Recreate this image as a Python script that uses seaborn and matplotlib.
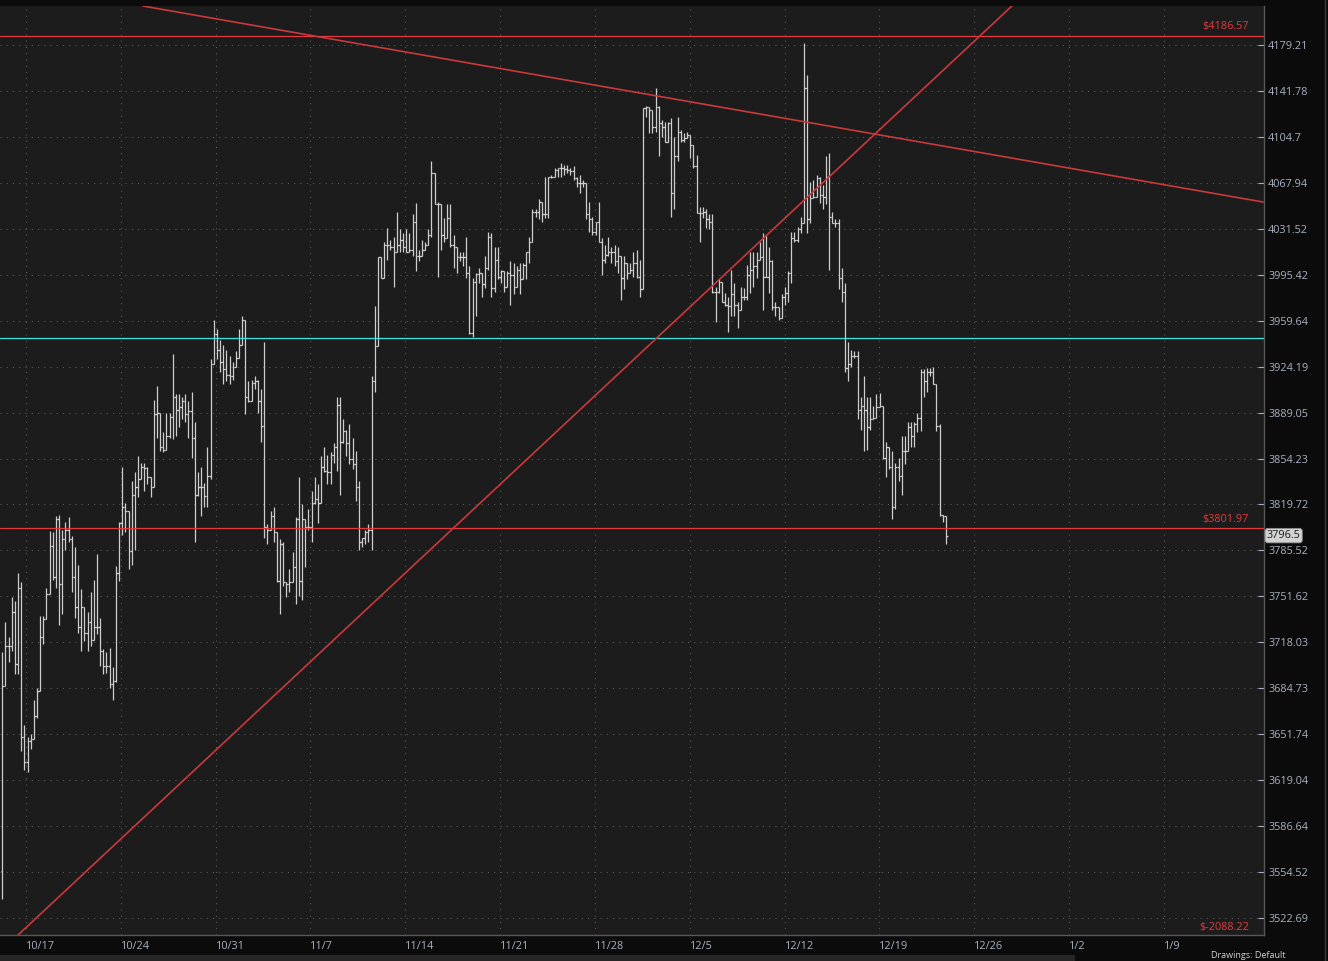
import numpy as np
import pandas as pd
import matplotlib
matplotlib.use("Agg")
import matplotlib.pyplot as plt
import matplotlib.transforms as mtransforms
from matplotlib.lines import Line2D
from matplotlib.patches import Rectangle
import seaborn as sns

# ---- data: 4h OHLC bars, (high, low, close); open = previous close ----
first_open = 3555

bars_oct = [
    (3711, 3536, 3686), (3733, 3686, 3715), (3722, 3704, 3715), (3751, 3712, 3740), (3748, 3695, 3702),
    (3769, 3695, 3758), (3762, 3640, 3650), (3658, 3626, 3632), (3650, 3625, 3647), (3652, 3641, 3648),
    (3676, 3648, 3665), (3685, 3663, 3683), (3737, 3683, 3722), (3737, 3717, 3735), (3758, 3741, 3753),
    (3800, 3753, 3789), (3799, 3764, 3766), (3811, 3758, 3809), (3812, 3731, 3761), (3801, 3739, 3794),
    (3807, 3786, 3801), (3810, 3792, 3794), (3796, 3755, 3766), (3788, 3736, 3744), (3775, 3725, 3729),
    (3757, 3712, 3744), (3744, 3719, 3725), (3740, 3712, 3733), (3755, 3715, 3720), (3764, 3722, 3729),
    (3783, 3724, 3729), (3736, 3701, 3712), (3713, 3695, 3701), (3711, 3696, 3701), (3714, 3685, 3688),
    (3700, 3676, 3690), (3774, 3689, 3769), (3807, 3763, 3806), (3848, 3797, 3818), (3821, 3799, 3815),
    (3815, 3772, 3785), (3837, 3775, 3827), (3844, 3786, 3833), (3856, 3825, 3839), (3851, 3839, 3848),
    (3851, 3830, 3847), (3848, 3835, 3840), (3840, 3825, 3833), (3899, 3833, 3888), (3909, 3870, 3889),
    (3876, 3860, 3863), (3874, 3859, 3861), (3889, 3866, 3871), (3889, 3870, 3886), (3934, 3869, 3901),
    (3903, 3871, 3891), (3903, 3878, 3893), (3901, 3884, 3898), (3903, 3882, 3888), (3898, 3870, 3890),
    (3905, 3855, 3870), (3882, 3792, 3827), (3844, 3826, 3833), (3848, 3811, 3833), (3836, 3818, 3826),
    (3863, 3818, 3841), (3930, 3839, 3926),
]

bars_oct31 = [
    (3960, 3926, 3949), (3953, 3930, 3937), (3945, 3920, 3928), (3941, 3911, 3922), (3937, 3913, 3918),
]

bars_nov_a = [
    (3932, 3911, 3917), (3928, 3914, 3924), (3936, 3924, 3931), (3953, 3931, 3941), (3963, 3941, 3960),
    (3960, 3888, 3901), (3913, 3897, 3898), (3914, 3901, 3912), (3917, 3907, 3913), (3914, 3889, 3898),
    (3907, 3867, 3879), (3943, 3795, 3803), (3805, 3790, 3801), (3815, 3801, 3811), (3818, 3792, 3799),
    (3792, 3762, 3763), (3794, 3739, 3790), (3792, 3759, 3762), (3762, 3751, 3761), (3772, 3755, 3762),
    (3784, 3772, 3773), (3810, 3746, 3809), (3840, 3752, 3763), (3820, 3749, 3809), (3806, 3773, 3803),
    (3816, 3801, 3803), (3830, 3792, 3821), (3840, 3820, 3824), (3835, 3806, 3821), (3856, 3821, 3848),
    (3863, 3844, 3845), (3857, 3835, 3844), (3859, 3835, 3857), (3866, 3851, 3863), (3901, 3845, 3895),
    (3901, 3827, 3867), (3884, 3866, 3875), (3876, 3856, 3866), (3880, 3850, 3854), (3870, 3846, 3850),
    (3860, 3822, 3833), (3837, 3786, 3792), (3795, 3788, 3795), (3801, 3790, 3799), (3805, 3792, 3801),
    (3917, 3786, 3913), (3971, 3905, 3940), (4009, 3940, 4009), (4009, 3993, 3993), (4021, 3993, 4019),
    (4032, 4007, 4019), (4023, 4015, 4017), (4025, 3986, 4013), (4045, 4013, 4019), (4031, 4013, 4023),
    (4028, 4013, 4017), (4031, 4013, 4013), (4028, 4013, 4015), (4043, 4010, 4037), (4052, 3998, 4010),
    (4015, 4006, 4010), (4023, 4013, 4015), (4021, 4017, 4019), (4031, 4025, 4027), (4085, 4025, 4076),
    (4076, 4051, 4051), (4053, 3994, 4051), (4031, 4015, 4027), (4040, 4021, 4024), (4051, 4027, 4040),
    (4051, 4017, 4019), (4027, 4001, 4017), (4017, 3997, 4009), (4013, 4006, 4009), (4013, 4002, 4009),
    (4025, 3993, 3997), (4002, 3949, 3950), (3993, 3947, 3990), (3997, 3963, 3996),
]

bars_nov_b = [
    (4001, 3989, 3997), (3995, 3978, 3988), (4010, 3985, 4001), (4029, 3999, 4025), (4028, 3978, 3985),
    (4017, 3982, 4007), (4017, 3992, 3994), (3999, 3989, 3998), (3997, 3982, 3986), (3998, 3989, 3997),
    (4006, 3972, 3995), (4005, 3980, 3986), (4002, 3992, 3999), (4005, 3980, 3992), (4005, 3997, 4003),
    (4013, 3992, 4013), (4025, 4005, 4021), (4047, 4021, 4045), (4047, 4041, 4045), (4055, 4039, 4053),
    (4053, 4037, 4043), (4073, 4040, 4043), (4073, 4040, 4073), (4074, 4072, 4073), (4080, 4074, 4078),
    (4080, 4073, 4080), (4084, 4073, 4080), (4082, 4074, 4079), (4082, 4076, 4078), (4080, 4074, 4077),
    (4081, 4070, 4072), (4073, 4065, 4068), (4074, 4060, 4068), (4070, 4065, 4068), (4058, 4039, 4043),
    (4053, 4029, 4039), (4041, 4027, 4029), (4037, 4027, 4037), (4053, 4021, 4021), (4024, 3995, 4007),
    (4019, 4005, 4011), (4025, 4010, 4013), (4017, 4005, 4013), (4019, 4002, 4006), (4017, 3997, 4010),
    (4003, 3976, 3993), (4010, 3984, 4005), (4005, 3992, 3997), (4005, 3998, 3999), (4013, 3994, 4005),
    (4015, 3993, 3994), (4007, 3978, 3984), (4128, 3984, 4128), (4130, 4121, 4129), (4128, 4108, 4126),
    (4122, 4108, 4113), (4144, 4109, 4129), (4130, 4089, 4116), (4118, 4105, 4113), (4117, 4101, 4101),
    (4117, 4106, 4116), (4120, 4041, 4060), (4105, 4047, 4089), (4121, 4085, 4109), (4110, 4101, 4102),
    (4108, 4101, 4104), (4109, 4104, 4106), (4106, 4088, 4098), (4098, 4080, 4081), (4090, 4044, 4044),
    (4049, 4021, 4044), (4049, 4040, 4045), (4047, 4032, 4039), (4043, 4031, 4037),
]

bars_dec = [
    (4043, 3981, 3982), (3986, 3959, 3982), (3992, 3981, 3990), (3988, 3974, 3974), (3981, 3971, 3972),
    (3978, 3951, 3971), (3999, 3963, 3980), (3989, 3963, 3972), (3974, 3954, 3968), (3986, 3971, 3978),
    (3985, 3976, 3978), (4003, 3976, 3995), (4013, 3981, 3999), (4013, 3986, 4002), (4013, 3993, 4007),
    (4021, 4007, 4009), (4028, 3968, 3994), (4027, 3994, 3994), (4017, 3981, 4006), (4007, 3968, 3970),
    (3974, 3963, 3970), (3968, 3960, 3962), (3980, 3970, 3978), (3986, 3972, 3981), (3998, 3974, 3997),
    (4029, 3989, 4024), (4029, 4021, 4023), (4033, 4021, 4031), (4041, 4028, 4036), (4181, 4036, 4144),
    (4155, 4028, 4039), (4069, 4036, 4056), (4070, 4057, 4057), (4074, 4062, 4072), (4073, 4052, 4058),
    (4066, 4047, 4057), (4089, 4051, 4073), (4092, 3999, 4041), (4045, 4036, 4036), (4039, 4033, 4036),
    (4039, 3984, 3993), (4001, 3974, 3982), (3989, 3920, 3923), (3943, 3913, 3926), (3937, 3924, 3932),
    (3936, 3931, 3932), (3936, 3884, 3891), (3901, 3876, 3894), (3917, 3860, 3891), (3901, 3861, 3878),
    (3901, 3876, 3884), (3894, 3884, 3885), (3903, 3885, 3893), (3904, 3893, 3894), (3889, 3854, 3855),
    (3867, 3840, 3863), (3860, 3846, 3848), (3860, 3809, 3818), (3851, 3816, 3848), (3855, 3837, 3841),
    (3871, 3827, 3860), (3871, 3850, 3860), (3882, 3863, 3878), (3882, 3863, 3871), (3882, 3863, 3880),
    (3889, 3874, 3885), (3922, 3875, 3920), (3922, 3901, 3913), (3923, 3905, 3920), (3923, 3917, 3920),
    (3924, 3911, 3911), (3911, 3875, 3879), (3880, 3811, 3812), (3812, 3807, 3811), (3811, 3790, 3796.5),
]

last_price = 3796.5

# horizontal levels and trend lines (bar index, price)
level_top = 4186.57
level_support = 3801.97
level_mid = 3946.5
trend_down = [(44.6, 4211.2), (399.5, 4052.7)]
trend_up = [(5.0, 3511.0), (319.9, 4211.2)]

ytick_values = [4179.21, 4141.78, 4104.7, 4067.94, 4031.52, 3995.42, 3959.64, 3924.19, 3889.05, 3854.23,
                3819.72, 3785.52, 3751.62, 3718.03, 3684.73, 3651.74, 3619.04, 3586.64, 3554.52, 3522.69]
ytick_labels = ["4179.21", "4141.78", "4104.7", "4067.94", "4031.52", "3995.42", "3959.64", "3924.19",
                "3889.05", "3854.23", "3819.72", "3785.52", "3751.62", "3718.03", "3684.73", "3651.74",
                "3619.04", "3586.64", "3554.52", "3522.69"]
date_labels = ["10/17", "10/24", "10/31", "11/7", "11/14", "11/21", "11/28", "12/5", "12/12",
               "12/19", "12/26", "1/2", "1/9"]
date_ticks = [7.5, 37.5, 67.6, 97.6, 127.7, 157.7, 187.8, 217.8, 247.9, 277.9, 308.0, 338.0, 368.1]

# ---- build frame ----
df = pd.DataFrame(bars_oct + bars_oct31 + bars_nov_a + bars_nov_b + bars_dec,
                  columns=["high", "low", "close"])
df["open"] = [first_open] + df["close"].tolist()[:-1]
df["high"] = df[["high", "open", "close"]].max(axis=1)
df["low"] = df[["low", "open", "close"]].min(axis=1)
df["bar"] = np.arange(len(df))

trend_df = pd.DataFrame(
    [(b, p, "down") for b, p in trend_down] + [(b, p, "up") for b, p in trend_up],
    columns=["bar", "price", "line"])

# ---- style ----
sns.set_theme(style="dark", rc={
    "figure.facecolor": "#0b0b0b",
    "axes.facecolor": "#1c1c1c",
    "axes.edgecolor": "#575757",
    "text.color": "#a9b1c0",
    "xtick.color": "#a9b1c0",
    "ytick.color": "#a9b1c0",
})
plt.rcParams["font.family"] = ["Open Sans", "DejaVu Sans"]
fs = 7.8

fig = plt.figure(figsize=(13.28, 9.61), dpi=100)
ax = fig.add_axes([0, 26 / 961, 1264 / 1328, 929 / 961])
ax.set_yscale("log")

bar_color = "#cdcdcd"
ax.vlines(df["bar"], df["low"], df["high"], color=bar_color, lw=0.9, zorder=3)
ax.hlines(df["open"], df["bar"] - 0.55, df["bar"], color=bar_color, lw=0.9, zorder=3)
ax.hlines(df["close"], df["bar"], df["bar"] + 0.55, color=bar_color, lw=0.9, zorder=3)

red = "#e23b3f"
ax.axhline(level_top, color=red, lw=0.9, zorder=4)
ax.axhline(level_support, color=red, lw=0.9, zorder=4)
ax.axhline(level_mid, color="#38e4e4", lw=0.9, zorder=4)

sns.lineplot(data=trend_df, x="bar", y="price", units="line", estimator=None,
             color="#c9393d", lw=1.2, ax=ax, legend=False, zorder=4)

ax.set_xlim(-0.73, 399.8)
ax.set_ylim(3510.98, 4211.24)

# axes / ticks
ax.yaxis.tick_right()
ax.yaxis.set_minor_locator(matplotlib.ticker.NullLocator())
ax.set_yticks(ytick_values)
ax.set_yticklabels(ytick_labels)
ax.set_xticks(date_ticks)
ax.set_xticklabels(date_labels)
for lbl in ax.get_xticklabels():
    lbl.set_ha("left")
ax.tick_params(axis="y", which="both", direction="in", length=4, width=0.8, pad=3,
               labelsize=fs, colors="#a9b1c0")
ax.tick_params(axis="x", direction="in", length=3, width=0.8, pad=4,
               labelsize=fs, colors="#a9b1c0")
ax.set_xlabel("")
ax.set_ylabel("")
ax.grid(True, which="major", color="#5e5e5e", linestyle=(0, (1, 5)), linewidth=0.75)
for side in ["top", "left"]:
    ax.spines[side].set_visible(False)
for side in ["bottom", "right"]:
    ax.spines[side].set_color("#575757")
    ax.spines[side].set_linewidth(1)

# level labels
blend = mtransforms.blended_transform_factory(ax.transAxes, ax.transData)
for val, txt in [(level_top, "$4186.57"), (level_support, "$3801.97")]:
    ax.annotate(txt, xy=(0.988, val), xycoords=blend, xytext=(0, 6.5),
                textcoords="offset points", ha="right", va="center",
                fontsize=fs, color=red, zorder=5)
ax.text(0.988, 0.0086, "$-2088.22", transform=ax.transAxes, ha="right", va="center",
        fontsize=fs, color=red, zorder=5)

# last price tag
ax.text(1.0022, last_price, "3796.5", transform=blend, ha="left", va="center",
        fontsize=fs, color="#1a1a1a", clip_on=False, zorder=6,
        bbox=dict(boxstyle="round,pad=0.16,rounding_size=0.25", fc="#d2d2d2", ec="#8c8c8c", lw=0.6))

# frame pieces outside the plot
fig.add_artist(Line2D([1325 / 1328] * 2, [0, 1], color="#3a3a3a", lw=1))
fig.add_artist(Rectangle((0, 0), 1075 / 1328, 6 / 961, transform=fig.transFigure,
                         color="#262626", lw=0))
fig.text(1211 / 1328, 1 / 961, "Drawings: Default", ha="left", va="bottom",
         fontsize=6.5, color="#cfcfcf")

fig.savefig("out.png", dpi=100, facecolor=fig.get_facecolor())
